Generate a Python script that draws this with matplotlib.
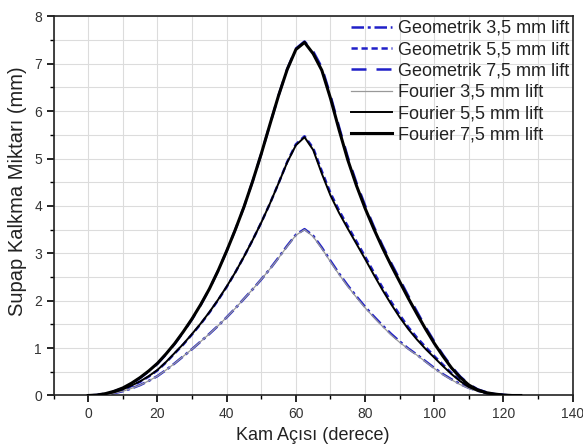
import matplotlib
matplotlib.use("Agg")
import matplotlib.pyplot as plt
from matplotlib.ticker import MultipleLocator

plt.rcParams['font.family'] = ['Liberation Sans', 'DejaVu Sans']

angle = [0, 2.5, 5, 7.5, 10, 12.5, 15, 17.5, 20, 22.5, 25, 27.5, 30, 32.5, 35, 37.5, 40, 42.5,
         45, 47.5, 50, 52.5, 55, 57.5, 60, 62.5, 65, 67.5, 70, 72.5, 75, 77.5, 80, 82.5, 85,
         87.5, 90, 92.5, 95, 97.5, 100, 102.5, 105, 107.5, 110, 112.5, 115, 117.5, 120, 122.5, 125]

four_35 = [0, 0.005, 0.02, 0.05, 0.09, 0.15, 0.22, 0.31, 0.41, 0.54, 0.68, 0.83, 0.98, 1.14, 1.30,
           1.47, 1.65, 1.84, 2.04, 2.24, 2.45, 2.67, 2.90, 3.15, 3.38, 3.50, 3.35, 3.10, 2.82, 2.55,
           2.30, 2.07, 1.85, 1.65, 1.46, 1.28, 1.12, 0.98, 0.85, 0.71, 0.57, 0.44, 0.33, 0.23, 0.15,
           0.09, 0.05, 0.02, 0.01, 0, 0]
four_55 = [0, 0.01, 0.03, 0.07, 0.13, 0.21, 0.30, 0.41, 0.54, 0.71, 0.90, 1.09, 1.30, 1.52, 1.76,
           2.02, 2.30, 2.60, 2.93, 3.28, 3.65, 4.05, 4.48, 4.92, 5.28, 5.45, 5.18, 4.68, 4.22, 3.85,
           3.52, 3.20, 2.88, 2.55, 2.23, 1.93, 1.65, 1.40, 1.18, 0.98, 0.80, 0.62, 0.45, 0.30, 0.18,
           0.10, 0.05, 0.02, 0.01, 0, 0]
four_75 = [0, 0.01, 0.04, 0.09, 0.16, 0.26, 0.38, 0.52, 0.68, 0.88, 1.10, 1.35, 1.62, 1.92, 2.25,
           2.63, 3.05, 3.50, 3.98, 4.52, 5.10, 5.72, 6.33, 6.88, 7.30, 7.45, 7.21, 6.86, 6.27, 5.60,
           4.97, 4.43, 3.95, 3.52, 3.12, 2.75, 2.40, 2.05, 1.72, 1.40, 1.10, 0.83, 0.58, 0.38, 0.22,
           0.12, 0.06, 0.03, 0.01, 0, 0]

geo_35 = [0, 0.005, 0.02, 0.05, 0.09, 0.15, 0.22, 0.31, 0.41, 0.54, 0.68, 0.83, 0.98, 1.14, 1.30,
          1.47, 1.65, 1.84, 2.04, 2.24, 2.45, 2.67, 2.91, 3.16, 3.39, 3.51, 3.37, 3.12, 2.84, 2.57,
          2.32, 2.09, 1.87, 1.67, 1.48, 1.30, 1.14, 0.99, 0.86, 0.72, 0.58, 0.45, 0.34, 0.24, 0.16,
          0.10, 0.05, 0.02, 0.01, 0, 0]
geo_55 = [0, 0.01, 0.03, 0.07, 0.12, 0.20, 0.29, 0.40, 0.53, 0.70, 0.89, 1.08, 1.29, 1.51, 1.75,
          2.01, 2.29, 2.60, 2.93, 3.28, 3.65, 4.05, 4.48, 4.93, 5.30, 5.47, 5.22, 4.73, 4.27, 3.90,
          3.57, 3.25, 2.93, 2.60, 2.28, 1.98, 1.70, 1.44, 1.22, 1.02, 0.83, 0.65, 0.47, 0.32, 0.19,
          0.11, 0.06, 0.03, 0.01, 0, 0]
geo_75 = [0, 0.01, 0.04, 0.09, 0.15, 0.25, 0.37, 0.51, 0.67, 0.87, 1.09, 1.34, 1.61, 1.91, 2.25,
          2.63, 3.05, 3.50, 3.98, 4.52, 5.10, 5.72, 6.33, 6.89, 7.32, 7.47, 7.26, 6.92, 6.33, 5.66,
          5.03, 4.49, 4.01, 3.57, 3.17, 2.80, 2.45, 2.10, 1.77, 1.44, 1.14, 0.86, 0.61, 0.40, 0.24,
          0.13, 0.07, 0.03, 0.01, 0, 0]

labels = ["Geometrik 3,5 mm lift", "Geometrik 5,5 mm lift", "Geometrik 7,5 mm lift",
          "Fourier 3,5 mm lift", "Fourier 5,5 mm lift", "Fourier 7,5 mm lift"]

blue = '#2020c8'

fig = plt.figure(figsize=(5.83, 4.48), dpi=100)
ax = fig.add_axes([0.0921, 0.1172, 0.8902, 0.8464])

ax.plot(angle, geo_35, color=blue, lw=1.8, ls=(0, (5, 1.5, 1.2, 1.5)), label=labels[0], zorder=2)
ax.plot(angle, geo_55, color=blue, lw=1.8, ls=(0, (2.5, 1.5)), label=labels[1], zorder=2)
ax.plot(angle, geo_75, color=blue, lw=1.8, ls=(0, (6, 4)), label=labels[2], zorder=2)
ax.plot(angle, four_35, color='#999999', lw=0.9, label=labels[3], zorder=3)
ax.plot(angle, four_55, color='black', lw=1.4, label=labels[4], zorder=3)
ax.plot(angle, four_75, color='black', lw=2.2, label=labels[5], zorder=3)

ax.set_xlim(-10, 140)
ax.set_ylim(0, 8)
ax.xaxis.set_major_locator(MultipleLocator(20))
ax.xaxis.set_minor_locator(MultipleLocator(10))
ax.yaxis.set_major_locator(MultipleLocator(1))
ax.yaxis.set_minor_locator(MultipleLocator(0.5))
ax.grid(True, which='both', color='#dcdcdc', lw=0.8, zorder=0)
ax.set_axisbelow(True)
ax.tick_params(which='major', direction='out', length=5, width=1.2, labelsize=10,
               colors='black', labelcolor='#333333')
ax.tick_params(which='minor', direction='out', length=3, width=1.0)
for s in ax.spines.values():
    s.set_linewidth(1.2)
    s.set_color('#222222')

ax.set_xlabel("Kam Açısı (derece)", fontsize=13, labelpad=4, color='#222222')
ax.set_ylabel("Supap Kalkma Miktarı (mm)", fontsize=14.5, color='#222222')
ax.yaxis.set_label_coords(-0.052, 0.54)

leg = ax.legend(loc='upper right', frameon=False, fontsize=13, labelspacing=0.24,
                handlelength=2.3, handletextpad=0.3, borderaxespad=0.05, borderpad=0.15)
for t in leg.get_texts():
    t.set_color('#222222')

fig.savefig("out.png", dpi=100)
